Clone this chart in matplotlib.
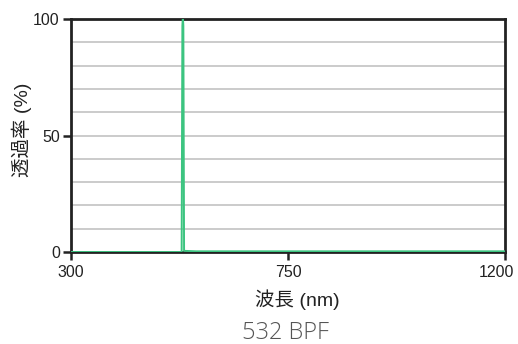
import matplotlib
matplotlib.use("Agg")
import matplotlib.pyplot as plt
from matplotlib.transforms import ScaledTranslation

# Transmission spectrum of a 532 nm band-pass filter
wavelength_nm = [300, 529.5, 531, 531.5, 532, 532.5, 533, 534.5, 560, 800, 1000, 1200]
transmission_pct = [0, 0, 97, 99, 100, 99, 97, 0.5, 0.3, 0.3, 0.3, 0.3]

x_ticks = [300, 750, 1200]
y_ticks = [0, 50, 100]
grid_levels = [10, 20, 30, 40, 50, 60, 70, 80, 90]

label_font = ['Liberation Sans', 'Noto Sans CJK JP', 'DejaVu Sans']

fig = plt.figure(figsize=(5.18, 3.44), dpi=100)
ax = fig.add_axes([0.137, 0.2674, 0.838, 0.6774])

for g in grid_levels:
    ax.axhline(g, color='#bdbdbd', lw=1.1, zorder=1)

ax.plot(wavelength_nm, transmission_pct, color='#3cc480', lw=1.4, zorder=3)

ax.set_xlim(300, 1200)
ax.set_ylim(0, 100)
ax.set_xticks(x_ticks)
ax.set_yticks(y_ticks)
ax.tick_params(axis='both', labelsize=11.5, colors='#222222', length=6, width=1.8,
               direction='out', pad=2)
ax.tick_params(axis='x', pad=3)
for lbl in ax.get_xticklabels() + ax.get_yticklabels():
    lbl.set_family(['Liberation Sans', 'DejaVu Sans'])
# keep the last x tick label inside the figure
last = ax.get_xticklabels()[-1]
last.set_transform(last.get_transform() + ScaledTranslation(-0.09, 0, fig.dpi_scale_trans))

for s in ax.spines.values():
    s.set_color('#222222')
    s.set_linewidth(2)

ax.set_xlabel('波長 (nm)', family=label_font, fontsize=14, color='#222222')
ax.set_ylabel('透過率 (%)', family=label_font, fontsize=14, color='#222222')
ax.xaxis.set_label_coords(0.521, -0.16)
ax.yaxis.set_label_coords(-0.09, 0.524)

fig.text(0.552, 0.032, '532 BPF', ha='center', va='center', fontsize=17,
         family=['Open Sans', 'DejaVu Sans'], fontweight='light', color='#555555')

fig.savefig('out.png', dpi=100)
